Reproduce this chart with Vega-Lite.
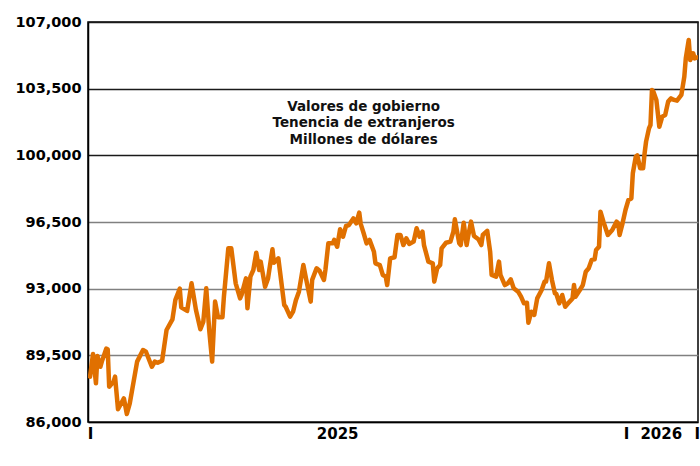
{
  "$schema": "https://vega.github.io/schema/vega-lite/v6.json",
  "width": 610,
  "height": 400,
  "autosize": {"type": "none"},
  "padding": {"left": 88, "top": 22, "right": 2, "bottom": 44},
  "background": "white",
  "config": {"view": {"stroke": "#000", "strokeWidth": 1.5}, "font": "DejaVu Sans"},
  "layer": [
    {
      "data": {"values": [
        {"dia":0,"valor":88380},{"dia":2,"valor":89570},{"dia":4,"valor":88030},{"dia":5,"valor":89470},{"dia":7,"valor":88900},{"dia":8,"valor":89170},{"dia":11,"valor":89850},{"dia":12,"valor":89820},{"dia":13,"valor":87850},{"dia":16,"valor":88120},{"dia":17,"valor":88380},{"dia":19,"valor":86670},{"dia":23,"valor":87240},{"dia":25,"valor":86420},{"dia":27,"valor":86980},{"dia":32,"valor":89170},{"dia":36,"valor":89780},{"dia":38,"valor":89690},{"dia":42,"valor":88900},{"dia":44,"valor":89170},{"dia":46,"valor":89110},{"dia":49,"valor":89220},{"dia":52,"valor":90830},{"dia":56,"valor":91390},{"dia":58,"valor":92410},{"dia":61,"valor":93000},{"dia":62,"valor":92020},{"dia":66,"valor":91830},{"dia":69,"valor":93280},{"dia":72,"valor":91880},{"dia":75,"valor":90870},{"dia":77,"valor":91270},{"dia":79,"valor":93020},{"dia":81,"valor":90830},{"dia":83,"valor":89170},{"dia":85,"valor":92320},{"dia":87,"valor":91500},{"dia":90,"valor":91500},{"dia":91,"valor":92580},{"dia":94,"valor":95120},{"dia":96,"valor":95120},{"dia":99,"valor":93280},{"dia":102,"valor":92490},{"dia":103,"valor":92670},{"dia":106,"valor":93540},{"dia":107,"valor":91970},{"dia":109,"valor":93630},{"dia":111,"valor":93980},{"dia":113,"valor":94890},{"dia":115,"valor":93980},{"dia":116,"valor":94420},{"dia":119,"valor":93100},{"dia":121,"valor":93540},{"dia":124,"valor":95070},{"dia":125,"valor":94360},{"dia":128,"valor":94590},{"dia":132,"valor":92140},{"dia":133,"valor":92050},{"dia":136,"valor":91530},{"dia":138,"valor":91790},{"dia":140,"valor":92410},{"dia":142,"valor":92840},{"dia":145,"valor":94240},{"dia":147,"valor":93460},{"dia":150,"valor":92320},{"dia":151,"valor":93460},{"dia":154,"valor":94070},{"dia":156,"valor":93940},{"dia":159,"valor":93460},{"dia":160,"valor":93980},{"dia":162,"valor":95380},{"dia":165,"valor":95380},{"dia":166,"valor":95560},{"dia":168,"valor":95200},{"dia":170,"valor":96120},{"dia":172,"valor":95730},{"dia":174,"valor":96290},{"dia":176,"valor":96340},{"dia":179,"valor":96690},{"dia":181,"valor":96430},{"dia":183,"valor":96990},{"dia":184,"valor":96400},{"dia":186,"valor":95910},{"dia":188,"valor":95380},{"dia":190,"valor":95560},{"dia":193,"valor":94940},{"dia":194,"valor":94330},{"dia":197,"valor":94240},{"dia":199,"valor":93720},{"dia":201,"valor":93630},{"dia":202,"valor":93190},{"dia":204,"valor":94590},{"dia":207,"valor":94650},{"dia":209,"valor":95820},{"dia":211,"valor":95820},{"dia":213,"valor":95290},{"dia":215,"valor":95640},{"dia":217,"valor":95350},{"dia":220,"valor":95470},{"dia":222,"valor":96170},{"dia":224,"valor":95730},{"dia":226,"valor":95990},{"dia":227,"valor":95290},{"dia":230,"valor":94420},{"dia":233,"valor":94330},{"dia":234,"valor":93370},{"dia":236,"valor":94070},{"dia":238,"valor":94240},{"dia":239,"valor":95120},{"dia":242,"valor":95410},{"dia":245,"valor":95470},{"dia":247,"valor":95990},{"dia":248,"valor":96640},{"dia":251,"valor":95380},{"dia":252,"valor":95290},{"dia":254,"valor":96460},{"dia":256,"valor":95290},{"dia":257,"valor":95730},{"dia":259,"valor":96520},{"dia":261,"valor":95770},{"dia":264,"valor":95590},{"dia":266,"valor":95290},{"dia":267,"valor":95820},{"dia":270,"valor":96040},{"dia":272,"valor":94940},{"dia":273,"valor":93720},{"dia":276,"valor":93630},{"dia":278,"valor":94420},{"dia":279,"valor":93720},{"dia":282,"valor":93190},{"dia":284,"valor":93280},{"dia":286,"valor":93490},{"dia":288,"valor":93020},{"dia":291,"valor":92840},{"dia":293,"valor":92580},{"dia":295,"valor":92230},{"dia":297,"valor":92260},{"dia":298,"valor":91210},{"dia":300,"valor":91790},{"dia":302,"valor":91620},{"dia":304,"valor":92490},{"dia":307,"valor":92930},{"dia":309,"valor":93370},{"dia":310,"valor":93370},{"dia":312,"valor":94330},{"dia":314,"valor":93460},{"dia":316,"valor":92760},{"dia":317,"valor":92720},{"dia":319,"valor":92230},{"dia":321,"valor":92670},{"dia":323,"valor":92050},{"dia":325,"valor":92230},{"dia":328,"valor":92490},{"dia":329,"valor":93190},{"dia":330,"valor":92580},{"dia":333,"valor":92930},{"dia":335,"valor":93190},{"dia":337,"valor":93890},{"dia":339,"valor":94070},{"dia":341,"valor":94510},{"dia":343,"valor":94540},{"dia":344,"valor":95030},{"dia":346,"valor":95200},{"dia":347,"valor":97040},{"dia":349,"valor":96520},{"dia":352,"valor":95820},{"dia":355,"valor":96080},{"dia":358,"valor":96520},{"dia":359,"valor":96430},{"dia":360,"valor":95820},{"dia":362,"valor":96430},{"dia":364,"valor":97130},{"dia":366,"valor":97660},{"dia":368,"valor":97740},{"dia":369,"valor":99060},{"dia":371,"valor":99930},{"dia":372,"valor":100000},{"dia":374,"valor":99320},{"dia":376,"valor":99320},{"dia":377,"valor":100110},{"dia":378,"valor":100720},{"dia":380,"valor":101420},{"dia":381,"valor":101590},{"dia":382,"valor":103430},{"dia":383,"valor":103340},{"dia":385,"valor":102910},{"dia":387,"valor":101500},{"dia":389,"valor":102030},{"dia":391,"valor":102120},{"dia":393,"valor":102820},{"dia":395,"valor":102990},{"dia":397,"valor":102910},{"dia":399,"valor":102870},{"dia":402,"valor":103170},{"dia":404,"valor":104130},{"dia":405,"valor":105090},{"dia":407,"valor":106060},{"dia":408,"valor":105000},{"dia":410,"valor":105360},{"dia":411,"valor":105090},{"dia":413,"valor":105150}
      ]},
      "mark": {"type": "line", "color": "#E07000", "strokeWidth": 4.5, "strokeJoin": "round", "strokeCap": "round", "clip": true},
      "encoding": {
        "x": {
          "field": "dia", "type": "quantitative",
          "scale": {"domain": [-1.4, 413.3], "nice": false, "zero": false},
          "axis": {
            "values": [0, 168, 364.3, 388, 412.4],
            "labelExpr": "datum.value == 168 ? '2025' : datum.value == 388 ? '2026' : 'I'",
            "title": null, "ticks": false, "grid": false,
            "labelFont": "DejaVu Sans", "labelFontWeight": "bold", "labelFontSize": 15, "labelColor": "#000",
            "labelPadding": 4, "labelOverlap": false, "labelFlush": false, "labelBound": false,
            "domainColor": "#000", "domainWidth": 1.5
          }
        },
        "y": {
          "field": "valor", "type": "quantitative",
          "scale": {"domain": [86000, 107000], "nice": false, "zero": false},
          "axis": {
            "values": [86000, 89500, 93000, 96500, 100000, 103500, 107000],
            "format": ",.0f", "title": null, "ticks": false,
            "labelFont": "DejaVu Sans", "labelFontWeight": "bold", "labelFontSize": 14.5, "labelColor": "#000",
            "labelPadding": 7,
            "domainColor": "#000", "domainWidth": 1.5,
            "grid": true, "gridWidth": 1.5, "gridOpacity": 1,
            "gridColor": {"condition": {"test": "datum.value >= 100000", "value": "#1a1a1a"}, "value": "#808080"}
          }
        }
      }
    },
    {
      "data": {"values": [{}]},
      "mark": {
        "type": "text",
        "text": ["Valores de gobierno", "Tenencia de extranjeros", "Millones de dólares"],
        "font": "DejaVu Sans", "fontWeight": "bold", "fontSize": 13.5, "color": "#111",
        "align": "center", "baseline": "middle", "lineHeight": 16.5
      },
      "encoding": {
        "x": {"datum": 186},
        "y": {"datum": 102540}
      }
    }
  ]
}
